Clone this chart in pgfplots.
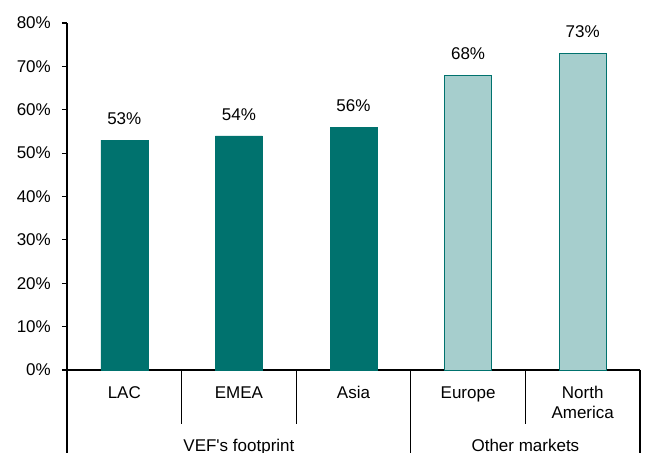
\documentclass[border=0pt]{standalone}
\usepackage{pgfplots}
\pgfplotsset{compat=1.18}
\usepackage{fontspec}
\setmainfont{Liberation Sans}
\definecolor{darkteal}{RGB}{0,114,110}
\definecolor{lightteal}{RGB}{166,206,205}

\begin{document}
\fontsize{17}{20}\selectfont
\begin{tikzpicture}
\begin{axis}[
  scale only axis,
  width=573pt, height=347pt,
  xmin=-0.5, xmax=4.5,
  ymin=0, ymax=80,
  ytick={0,10,...,80},
  yticklabel={\pgfmathprintnumber{\tick}\%},
  yticklabel style={inner sep=0pt, xshift=-11pt},
  xtick={0,...,4},
  xticklabels={LAC, EMEA, Asia, Europe, North\\America},
  typeset ticklabels with strut,
  xticklabel style={align=center, anchor=north, inner sep=0pt, yshift=-9pt,
    font=\fontsize{17}{20}\selectfont},
  x tick style={draw=none},
  y tick style={black, line width=1.2pt},
  major tick length=5pt,
  tick align=outside,
  axis x line*=bottom, axis y line*=left,
  axis line style={line width=1.3pt, -},
  ybar, bar width=47pt,
  clip=false,
  nodes near coords={\pgfmathprintnumber{\pgfplotspointmeta}\%},
  every node near coord/.append style={font=\fontsize{17}{20}\selectfont, black,
    inner sep=0pt, yshift=15pt},
  /pgf/number format/assume math mode=true,
]
% VEF's footprint
\addplot[fill=darkteal, draw=darkteal, bar shift=0pt] coordinates {(0,53) (1,54) (2,56)};
% Other markets
\addplot[fill=lightteal, draw=darkteal, line width=0.9pt, bar shift=0pt] coordinates {(3,68) (4,73)};

% category separators
\draw[line width=1.2pt] (axis cs:0.5,0) -- ([yshift=-54pt]axis cs:0.5,0);
\draw[line width=1.2pt] (axis cs:1.5,0) -- ([yshift=-54pt]axis cs:1.5,0);
\draw[line width=1.2pt] (axis cs:3.5,0) -- ([yshift=-54pt]axis cs:3.5,0);
% group separators
\draw[line width=1.3pt] (axis cs:-0.5,0) -- ([yshift=-95pt]axis cs:-0.5,0);
\draw[line width=1.3pt] (axis cs:2.5,0) -- ([yshift=-95pt]axis cs:2.5,0);
\draw[line width=1.3pt] (axis cs:4.5,0) -- ([yshift=-95pt]axis cs:4.5,0);
\node[anchor=north, inner sep=0pt] at ([yshift=-69pt]axis cs:1,0) {VEF\textquotesingle s footprint};
\node[anchor=north, inner sep=0pt] at ([yshift=-69pt]axis cs:3.5,0) {Other markets};

\coordinate (sw) at (rel axis cs:0,0);
\coordinate (ne) at (rel axis cs:1,1);
\end{axis}
\pgfresetboundingbox
\path[use as bounding box] ([xshift=-67pt,yshift=-83pt]sw) rectangle ([xshift=5pt,yshift=23pt]ne);
\end{tikzpicture}
\end{document}
